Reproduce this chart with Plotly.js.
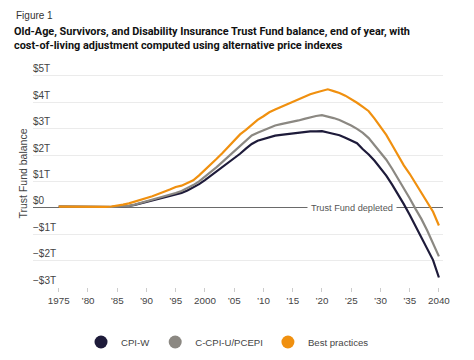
<!DOCTYPE html>
<html>
<head>
<meta charset="utf-8">
<script src="https://cdn.plot.ly/plotly-3.0.1.min.js"></script>
<style>
  html, body { margin: 0; padding: 0; background: #ffffff; }
  #chart { width: 474px; height: 360px; }
</style>
</head>
<body>
<div id="chart"></div>
<script>
// ---- data (trillions of dollars, end of year) ----
const years = [];
for (let y = 1975; y <= 2040; y++) years.push(y);

const cpiW = [
  0.044, 0.041, 0.036, 0.032, 0.030, 0.026, 0.022, 0.025, 0.024, 0.031,
  0.042, 0.047, 0.068, 0.109, 0.163, 0.225, 0.280, 0.331, 0.378, 0.436,
  0.496, 0.567, 0.655, 0.763, 0.896, 1.049, 1.213, 1.378, 1.531, 1.687,
  1.859, 2.048, 2.239, 2.419, 2.540, 2.609, 2.678, 2.732, 2.764, 2.790,
  2.813, 2.848, 2.892, 2.895, 2.897, 2.908, 2.852, 2.800, 2.750, 2.650,
  2.550, 2.450, 2.220, 2.020, 1.780, 1.500, 1.220, 0.880, 0.520, 0.140,
  -0.260, -0.700, -1.120, -1.550, -1.980, -2.640
];

const cCpiU = [
  0.044, 0.041, 0.036, 0.032, 0.030, 0.026, 0.022, 0.025, 0.025, 0.033,
  0.045, 0.052, 0.075, 0.120, 0.180, 0.240, 0.300, 0.360, 0.420, 0.480,
  0.560, 0.640, 0.740, 0.860, 1.000, 1.170, 1.350, 1.540, 1.740, 1.940,
  2.150, 2.360, 2.560, 2.740, 2.840, 2.940, 3.040, 3.120, 3.170, 3.210,
  3.250, 3.310, 3.370, 3.430, 3.480, 3.510, 3.460, 3.400, 3.330, 3.240,
  3.120, 2.990, 2.840, 2.640, 2.380, 2.120, 1.820, 1.480, 1.120, 0.750,
  0.360, -0.040, -0.420, -0.860, -1.330, -1.840
];

const bestPractices = [
  0.044, 0.041, 0.036, 0.032, 0.030, 0.026, 0.023, 0.027, 0.032, 0.050,
  0.075, 0.120, 0.170, 0.230, 0.300, 0.360, 0.440, 0.520, 0.600, 0.690,
  0.790, 0.840, 0.940, 1.040, 1.230, 1.430, 1.640, 1.860, 2.080, 2.320,
  2.560, 2.780, 2.950, 3.150, 3.330, 3.470, 3.620, 3.720, 3.820, 3.920,
  4.020, 4.120, 4.210, 4.300, 4.370, 4.430, 4.490, 4.420, 4.350, 4.250,
  4.130, 3.980, 3.820, 3.660, 3.380, 3.060, 2.760, 2.380, 1.980, 1.610,
  1.290, 0.920, 0.560, 0.200, -0.150, -0.670
];

const seriesNames = ["CPI-W", "C-CPI-U/PCEPI", "Best practices"];
const seriesColors = ["#1e1b3a", "#8b8882", "#f0900f"];
const seriesValues = [cpiW, cCpiU, bestPractices];

const xTickVals = [1975, 1980, 1985, 1990, 1995, 2000, 2005, 2010, 2015, 2020, 2025, 2030, 2035, 2040];
const xTickText = ["1975", "’80", "’85", "’90", "’95", "2000", "’05", "’10", "’15", "’20", "’25", "’30", "’35", "2040"];
const yTickVals = [-3, -2, -1, 0, 1, 2, 3, 4, 5];
const yTickText = ["−$3T", "−$2T", "−$1T", "$0", "$1T", "$2T", "$3T", "$4T", "$5T"];

const figureLabel = "Figure 1";
const chartTitle = "Old-Age, Survivors, and Disability Insurance Trust Fund balance, end of year, with<br>cost-of-living adjustment computed using alternative price indexes";
const yTitle = "Trust Fund balance";
const depletedLabel = "Trust Fund depleted";

const FONT = "Liberation Sans, Arial, sans-serif";
const X_RANGE = [1970.6, 2040.7];
const Y_RANGE = [-3, 5.6];

const traces = [];
seriesValues.forEach((vals, i) => {
  traces.push({
    x: years, y: vals, type: "scatter", mode: "lines",
    line: { color: seriesColors[i], width: 2.2 },
    showlegend: false, hoverinfo: "skip"
  });
});
seriesValues.forEach((vals, i) => {
  traces.push({
    x: [null], y: [null], type: "scatter", mode: "markers",
    name: seriesNames[i],
    marker: { color: seriesColors[i], size: 13, symbol: "circle" },
    showlegend: true
  });
});
// empty trace so the label-only subplot (x2/y2) is drawn
traces.push({
  x: [null], y: [null], type: "scatter", mode: "markers",
  xaxis: "x2", yaxis: "y2", showlegend: false, hoverinfo: "skip"
});

const layout = {
  width: 474, height: 360,
  margin: { l: 33, r: 31, t: 60, b: 73 },
  paper_bgcolor: "#ffffff", plot_bgcolor: "rgba(0,0,0,0)",
  font: { family: FONT, size: 10, color: "#444" },
  title: {
    text: chartTitle,
    x: 14 / 474, xref: "container", xanchor: "left",
    y: 1 - 35 / 360, yref: "container", yanchor: "top",
    font: { family: "Roboto, Liberation Sans, sans-serif", size: 10.9, color: "#111", weight: "bold" }
  },
  xaxis: {
    range: X_RANGE,
    tickmode: "array", tickvals: xTickVals, ticktext: xTickText,
    showgrid: false, zeroline: false, showline: false,
    ticks: "outside", ticklen: 4, tickcolor: "#cccccc",
    tickfont: { family: FONT, size: 9.8, color: "#444" },
    fixedrange: true
  },
  yaxis: {
    range: Y_RANGE,
    tickmode: "array", tickvals: yTickVals,
    showticklabels: false,
    showgrid: true, gridcolor: "#ebebeb", gridwidth: 1,
    zeroline: true, zerolinecolor: "#6a6a6a", zerolinewidth: 1,
    showline: false, ticks: "",
    title: { text: yTitle, standoff: 2, font: { family: FONT, size: 10.5, color: "#444" } },
    automargin: false,
    fixedrange: true
  },
  // label-only axes for the inside y tick labels
  xaxis2: {
    range: X_RANGE, anchor: "y2", overlaying: "x", visible: false, fixedrange: true
  },
  yaxis2: {
    range: Y_RANGE, anchor: "x2", overlaying: "y",
    tickmode: "array", tickvals: yTickVals, ticktext: yTickText,
    ticklabelposition: "inside top", ticklabelstandoff: -3,
    showgrid: false, zeroline: false, showline: false, ticks: "",
    tickfont: { family: FONT, size: 10, color: "#444" },
    automargin: false, fixedrange: true
  },
  legend: {
    orientation: "h", x: 0.48, xanchor: "center", xref: "container",
    y: 1 - 342 / 360, yref: "container", yanchor: "middle",
    font: { family: FONT, size: 9.6, color: "#444" },
    itemclick: false, itemdoubleclick: false
  },
  annotations: [
    {
      text: figureLabel, xref: "paper", yref: "paper",
      x: 0, y: (287 - 15) / 227, xanchor: "left", yanchor: "middle",
      showarrow: false, font: { family: FONT, size: 10, color: "#333" },
      xshift: -19
    },
    {
      text: depletedLabel, xref: "x", yref: "y", x: 2025.1, y: 0,
      showarrow: false, bgcolor: "#ffffff", borderpad: 3,
      font: { family: FONT, size: 9.2, color: "#555" }
    }
  ],
  showlegend: true
};

Plotly.newPlot("chart", traces, layout, { displayModeBar: false, staticPlot: true });
</script>
</body>
</html>
